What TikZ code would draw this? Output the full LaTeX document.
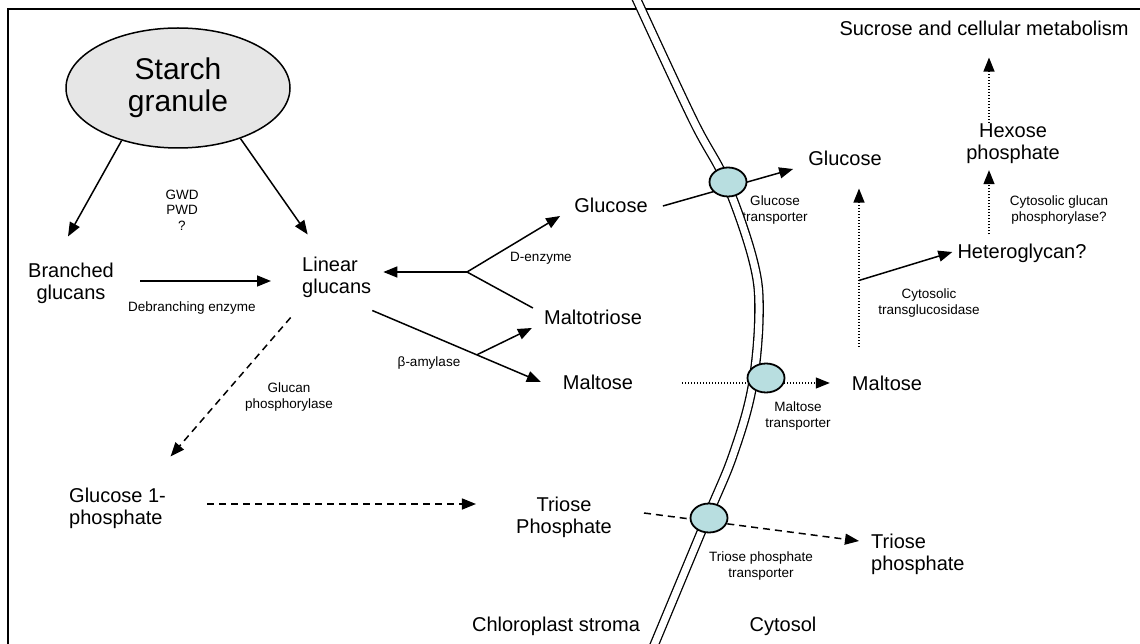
\documentclass[tikz,border=0pt]{standalone}
\usepackage{fontspec}
\setmainfont{Liberation Sans}
\usetikzlibrary{arrows.meta, positioning, shapes.geometric}
\definecolor{carrierCyan}{HTML}{B8DEE0}
\definecolor{granuleGrey}{HTML}{E6E6E6}

\begin{document}
\begin{tikzpicture}[x=1pt, y=1pt,
    lbl/.style={inner sep=0pt, font=\fontsize{20}{22}\selectfont, align=center},
    enz/.style={inner sep=0pt, font=\fontsize{13.5}{15.5}\selectfont, align=center},
    carrier/.style={ellipse, draw, line width=1.8pt, fill=carrierCyan,
                    minimum width=37pt, minimum height=29pt, inner sep=0pt},
    arr/.style={line width=1.5pt, -{Triangle[length=14pt, width=11pt]}},
    dotarr/.style={arr, line width=1.2pt, dash pattern=on 1.2pt off 1.8pt},
    dasharr/.style={arr, dash pattern=on 7pt off 5pt},
  ]
    \clip (0,0) rectangle (1140,643);
    \draw[line width=1.5pt] (8,-20) rectangle (1160,634);

    % chloroplast side
    \node[ellipse, draw, line width=1.5pt, fill=granuleGrey, minimum width=224pt,
          minimum height=120pt, font=\fontsize{30}{32}\selectfont, align=center]
          (starch) at (178,555) {Starch\\granule};
    \node[enz] (gwd) at (182,433) {GWD\\PWD\\?};
    \node[lbl] (branched) at (71,360) {Branched\\glucans};
    \node[enz] (debranch) at (192,335) {Debranching enzyme};
    \node[lbl, anchor=west, align=left] (linear) at (302,366) {Linear\\glucans};
    \node[lbl] (glucoseS) at (611,438) {Glucose};
    \node[enz] (denz) at (541,385) {D-enzyme};
    \node[lbl] (maltotriose) at (593,326) {Maltotriose};
    \node[lbl] (maltoseS) at (598,261) {Maltose};
    \node[enz] (bamyl) at (429,280) {β-amylase};
    \node[enz] (gphos) at (289,246) {Glucan\\phosphorylase};
    \node[lbl, anchor=west, align=left] (g1p) at (69,135) {Glucose 1-\\phosphate};
    \node[lbl] (trioseS) at (564,126) {Triose\\Phosphate};
    \node[lbl] (stroma) at (556,17) {Chloroplast stroma};

    % cytosol side
    \node[lbl] (cytosol) at (783,17) {Cytosol};
    \node[lbl] (glucoseC) at (845,485) {Glucose};
    \node[enz] (gtlbl) at (775,433) {Glucose\\transporter};
    \node[enz] (mtlbl) at (798,227) {Maltose\\transporter};
    \node[lbl] (maltoseC) at (887,260) {Maltose};
    \node[enz] (ttlbl) at (761,77) {Triose phosphate\\transporter};
    \node[lbl, anchor=west, align=left] (trioseC) at (871,89) {Triose\\phosphate};
    \node[enz] (transgluc) at (929,340) {Cytosolic\\transglucosidase};
    \node[lbl] (hetero) at (1022,390) {Heteroglycan?};
    \node[enz] (cgp) at (1059,433) {Cytosolic glucan\\phosphorylase?};
    \node[lbl] (hexose) at (1013,499) {Hexose\\phosphate};
    \node[lbl] (sucrose) at (984,615) {Sucrose and cellular metabolism};

    % envelope membrane
    \draw[line width=1.3pt, double, double distance=7pt]
      plot[smooth, tension=0.6] coordinates {(636,645) (693,523) (726,461)
        (753,383) (759,330) (752,255) (733,188) (707,125) (655,0) (650,-12)};

    % connectors in the stroma
    \draw[arr] (starch.223) -- ([shift={(-3,26)}]branched.north);
    \draw[arr] (starch.-39) -- ([shift={(-29,22)}]linear.north);
    \draw[arr] ([shift={(26,2)}]branched.east) -- ([shift={(-31,-4)}]linear.west);
    \coordinate (fork) at (467,371);
    \draw[arr] (fork) -- ([shift={(12,5)}]linear.east);
    \draw[arr] (fork) -- ([shift={(-14,-11)}]glucoseS.west);
    \draw[line width=1.5pt] (fork) -- ([shift={(-11,9)}]maltotriose.west);
    \draw[arr] ([shift={(1,-13)}]linear.south east)
      -- coordinate[pos=0.62] (bsplit) ([shift={(-22,0)}]maltoseS.west);
    \draw[arr] (bsplit) -- ([shift={(-12,-11)}]maltotriose.west);
    \draw[dasharr] ([shift={(-46,-20)}]linear.south) -- ([shift={(53,31)}]g1p.north);
    \draw[dasharr] ([shift={(41,4)}]g1p.east) -- ([shift={(-40,13)}]trioseS.west);

    % across the envelope
    \draw[arr] ([shift={(15,-1)}]glucoseS.east) -- ([shift={(-15,-11)}]glucoseC.west);
    \draw[dotarr] ([shift={(49,-1)}]maltoseS.east) -- ([shift={(-22,0)}]maltoseC.west);
    \draw[dasharr] ([shift={(32,4)}]trioseS.east) -- ([shift={(-12,13)}]trioseC.west);
    \node[carrier] (gt) at (728,461) {};
    \node[carrier] (mt) at (766,265) {};
    \node[carrier] (tt) at (709,125) {};

    % cytosol connectors
    \coordinate (tgbase) at (859,296);
    \draw[dotarr] (tgbase) -- coordinate[pos=0.42] (tgsplit)
      ([shift={(14,-23)}]glucoseC.south);
    \draw[arr] (tgsplit) -- ([shift={(-5,1)}]hetero.west);
    \draw[dotarr] ([shift={(-33,9)}]hetero.north) -- ([shift={(-24,-6)}]hexose.south);
    \draw[dotarr] ([shift={(-24,1)}]hexose.north) -- ([shift={(5,-22)}]sucrose.south);
\end{tikzpicture}
\end{document}
